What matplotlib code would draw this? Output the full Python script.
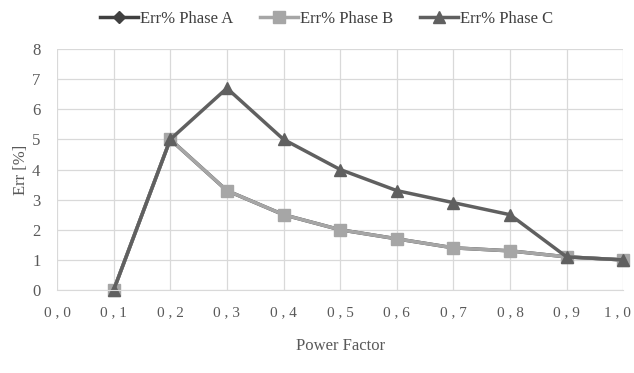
import matplotlib
matplotlib.use("Agg")
import matplotlib.pyplot as plt
import matplotlib.transforms as mtransforms
from matplotlib.ticker import MultipleLocator

plt.rcParams['font.family'] = ['Liberation Serif', 'DejaVu Serif']

pf = [0.1, 0.2, 0.3, 0.4, 0.5, 0.6, 0.7, 0.8, 0.9, 1.0]
err_a = [0, 5, 3.3, 2.5, 2.0, 1.7, 1.4, 1.3, 1.1, 1.0]
err_b = [0, 5, 3.3, 2.5, 2.0, 1.7, 1.4, 1.3, 1.1, 1.0]
err_c = [0, 5, 6.7, 5.0, 4.0, 3.3, 2.9, 2.5, 1.1, 1.0]
xticks = [0.0, 0.1, 0.2, 0.3, 0.4, 0.5, 0.6, 0.7, 0.8, 0.9, 1.0]
xticklabels = ["0 , 0", "0 , 1", "0 , 2", "0 , 3", "0 , 4", "0 , 5", "0 , 6", "0 , 7", "0 , 8", "0 , 9", "1 , 0"]

fig = plt.figure(figsize=(6.34, 3.73), dpi=100)
ax = fig.add_axes([0.09, 0.2225, 0.893, 0.646])

ax.plot(pf, err_a, color='#404040', marker='D', markersize=6, linewidth=2.5, label='Err% Phase A', clip_on=False)
ax.plot(pf, err_b, color='#a6a6a6', marker='s', markersize=9, linewidth=2.5, label='Err% Phase B', clip_on=False)
ax.plot(pf, err_c, color='#606060', marker='^', markersize=9, linewidth=2.5, label='Err% Phase C', clip_on=False)

ax.set_xlim(0, 1.0)
ax.set_ylim(0, 8)
ax.set_xticks(xticks)
ax.set_xticklabels(xticklabels)
ax.yaxis.set_major_locator(MultipleLocator(1))
ax.grid(True, color='#d9d9d9', linewidth=0.9)
ax.set_axisbelow(True)
for s in ['top', 'right', 'left']:
    ax.spines[s].set_visible(False)
ax.spines['bottom'].set_color('#d9d9d9')
ax.tick_params(axis='x', length=0, colors='#595959', labelsize=11, pad=12)
ax.tick_params(axis='y', length=0, colors='#595959', labelsize=12, pad=12)
ax.set_xlabel('Power Factor', fontsize=12, color='#595959', labelpad=13)
ax.set_ylabel('Err [%]', fontsize=12, color='#595959', labelpad=2)

last = ax.get_xticklabels()[-1]
last.set_transform(last.get_transform() + mtransforms.ScaledTranslation(-6/100, 0, fig.dpi_scale_trans))

leg = fig.legend(loc='upper center', bbox_to_anchor=(0.515, 1.01), ncol=3, frameon=False,
                 fontsize=12, handlelength=2.3, columnspacing=1.6, handletextpad=0.1)
for t in leg.get_texts():
    t.set_color('#404040')

fig.savefig('out.png', dpi=100)
